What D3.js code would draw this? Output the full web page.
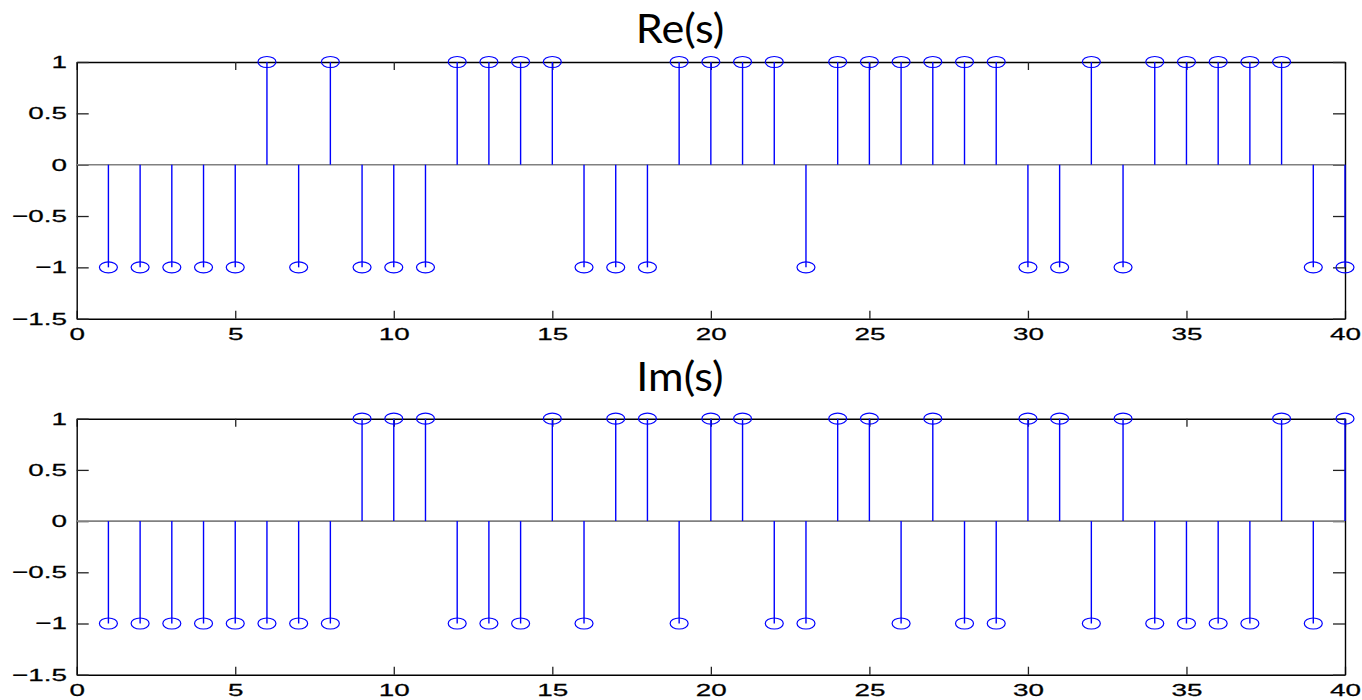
<!DOCTYPE html>
<html>
<head>
<meta charset="utf-8">
<script src="https://cdn.jsdelivr.net/npm/d3@7"></script>
<style>
html,body{margin:0;padding:0;background:#fff;}
svg{display:block;}
</style>
</head>
<body>
<svg id="chart" width="1362" height="700"></svg>
<script>
const indices = d3.range(1, 41);
const reValues = [-1,-1,-1,-1,-1, 1,-1, 1,-1,-1, -1, 1, 1, 1, 1, -1,-1,-1, 1, 1, 1, 1,-1, 1, 1, 1, 1, 1, 1,-1, -1, 1,-1, 1, 1, 1, 1, 1,-1,-1];
const imValues = [-1,-1,-1,-1,-1,-1,-1,-1, 1, 1, 1,-1,-1,-1, 1,-1, 1, 1,-1, 1, 1,-1,-1, 1, 1,-1, 1,-1,-1, 1, 1,-1, 1,-1,-1,-1,-1, 1,-1, 1];
const titles = ["Re(s)", "Im(s)"];
const xTicks = [0,5,10,15,20,25,30,35,40];
const yTicks = [-1.5,-1,-0.5,0,0.5,1];
const xDomain = [0, 40];
const yDomain = [-1.5, 1];

const svg = d3.select("#chart");
const left = 76.7, right = 1345;
const stretch = 1.64;
const panels = [
  {top: 62, bottom: 318.7, values: reValues, title: titles[0], titleY: 43},
  {top: 418.7, bottom: 674.7, values: imValues, title: titles[1], titleY: 391}
];
const fmt = v => (v < 0 ? "\u2212" + Math.abs(v) : String(v));
const labelFont = "'Liberation Sans', Arial, sans-serif";

panels.forEach(p => {
  const x = d3.scaleLinear().domain(xDomain).range([left, right]);
  const y = d3.scaleLinear().domain(yDomain).range([p.bottom, p.top]);
  const g = svg.append("g");

  // title
  g.append("text").attr("transform", `translate(680,${p.titleY}) scale(1.08,1)`)
    .attr("text-anchor", "middle").attr("font-family", "Lato, 'Open Sans', sans-serif")
    .attr("font-size", 40).attr("fill", "#000").text(p.title);

  // axes (inward ticks)
  const ax = (axis, tx, ty) => {
    const a = g.append("g").attr("transform", `translate(${tx},${ty})`).call(axis);
    a.select(".domain").attr("stroke", "#000").attr("stroke-width", 1.4);
    a.selectAll(".tick line").attr("stroke", "#222").attr("stroke-width", 1.3);
    a.selectAll("text").attr("font-family", labelFont).attr("font-size", 17)
      .attr("fill", "#000").attr("stroke", "#000").attr("stroke-width", 0.25)
      .attr("transform", `scale(${stretch},1)`);
    return a;
  };
  ax(d3.axisBottom(x).tickValues(xTicks).tickSize(-8).tickSizeOuter(0).tickFormat(d3.format("d")), 0, p.bottom)
    .selectAll("text").attr("dy", "0.71em").attr("y", 9);
  ax(d3.axisTop(x).tickValues(xTicks).tickSize(-8).tickSizeOuter(0).tickFormat(""), 0, p.top);
  ax(d3.axisLeft(y).tickValues(yTicks).tickSize(-12).tickSizeOuter(0).tickFormat(fmt), left, 0)
    .selectAll("text").attr("x", -9.7 / stretch);
  ax(d3.axisRight(y).tickValues(yTicks).tickSize(-12).tickSizeOuter(0).tickFormat(""), right, 0);

  // baseline
  g.append("line").attr("x1", x(xDomain[0])).attr("x2", x(xDomain[1]))
    .attr("y1", y(0)).attr("y2", y(0)).attr("stroke", "#808080").attr("stroke-width", 1.6);

  const data = indices.map((d, i) => ({n: d, v: p.values[i]}));
  g.selectAll(".stem").data(data).enter().append("line")
    .attr("x1", d => x(d.n)).attr("x2", d => x(d.n))
    .attr("y1", y(0)).attr("y2", d => y(d.v))
    .attr("stroke", "#0000ff").attr("stroke-width", 1.4);
  g.selectAll(".mark").data(data).enter().append("ellipse")
    .attr("cx", d => x(d.n)).attr("cy", d => y(d.v))
    .attr("rx", 9).attr("ry", 5.5)
    .attr("fill", "none").attr("stroke", "#0000ff").attr("stroke-width", 1.2);
});
</script>
</body>
</html>
